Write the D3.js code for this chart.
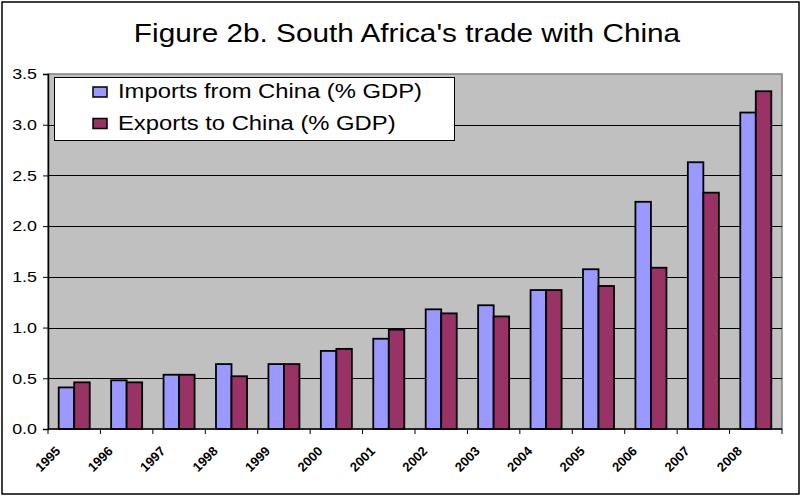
<!DOCTYPE html>
<html>
<head>
<meta charset="utf-8">
<script src="https://cdn.jsdelivr.net/npm/d3@7"></script>
<style>
  body { margin: 0; background: #fff; }
  svg { display: block; font-family: Arial, "Liberation Sans", sans-serif; }
</style>
</head>
<body>
<svg id="chart" width="802" height="497"></svg>
<script>
// data
var years = ["1995", "1996", "1997", "1998", "1999", "2000", "2001",
             "2002", "2003", "2004", "2005", "2006", "2007", "2008"];
var imports = [0.41, 0.48, 0.535, 0.64, 0.64, 0.77, 0.89, 1.18, 1.22, 1.37, 1.575, 2.24, 2.63, 3.12];
var exports = [0.46, 0.46, 0.535, 0.52, 0.64, 0.79, 0.98, 1.14, 1.11, 1.37, 1.41, 1.59, 2.33, 3.33];
var yTicks = [0, 0.5, 1, 1.5, 2, 2.5, 3, 3.5];
var seriesNames = ["Imports from China (% GDP)", "Exports to China (% GDP)"];
var seriesColors = ["#9999FF", "#993366"];

// the reference text is a bit wider than Arial, stretch it horizontally
var stretch = 1.19;

var svg = d3.select("#chart");

// outer frame
svg.append("rect")
    .attr("x", 2).attr("y", 2)
    .attr("width", 797).attr("height", 492)
    .attr("fill", "#fff")
    .attr("stroke", "#000")
    .attr("stroke-width", 1.5);

var plot = { left: 48, top: 74, right: 782, bottom: 429 };

var x = d3.scaleBand()
    .domain(years)
    .range([plot.left, plot.right]);

var xInner = d3.scaleBand()
    .domain([0, 1])
    .range([0, x.bandwidth()])
    .paddingInner(0)
    .paddingOuter(0.69);

var y = d3.scaleLinear()
    .domain([0, 3.5])
    .range([plot.bottom, plot.top]);

// title
svg.append("text")
    .attr("transform", "translate(407,42) scale(" + stretch + ",1)")
    .attr("text-anchor", "middle")
    .attr("font-size", 25)
    .attr("fill", "#000")
    .text("Figure 2b. South Africa's trade with China");

// plot area background
svg.append("rect")
    .attr("x", plot.left).attr("y", plot.top)
    .attr("width", plot.right - plot.left)
    .attr("height", plot.bottom - plot.top)
    .attr("fill", "#C0C0C0")
    .attr("stroke", "#808080")
    .attr("stroke-width", 1.5);

// gridlines
svg.append("g")
    .selectAll("line")
    .data(yTicks.filter(function(d) { return d > 0 && d < 3.5; }))
    .enter().append("line")
    .attr("x1", plot.left).attr("x2", plot.right)
    .attr("y1", function(d) { return Math.round(y(d)) + 0.5; })
    .attr("y2", function(d) { return Math.round(y(d)) + 0.5; })
    .attr("stroke", "#000")
    .attr("stroke-width", 1);

// bars
var groups = svg.append("g")
    .selectAll("g")
    .data(years)
    .enter().append("g")
    .attr("transform", function(d) { return "translate(" + x(d) + ",0)"; });

groups.selectAll("rect")
    .data(function(d, i) { return [imports[i], exports[i]]; })
    .enter().append("rect")
    .attr("x", function(d, j) { return xInner(j); })
    .attr("width", xInner.bandwidth())
    .attr("y", function(d) { return y(d); })
    .attr("height", function(d) { return y(0) - y(d); })
    .attr("fill", function(d, j) { return seriesColors[j]; })
    .attr("stroke", "#000")
    .attr("stroke-width", 1.8);

// y axis
var yAxis = d3.axisLeft(y)
    .tickValues(yTicks)
    .tickFormat(d3.format(".1f"))
    .tickSize(5)
    .tickPadding(6);

var yG = svg.append("g")
    .attr("transform", "translate(" + plot.left + ",0)")
    .call(yAxis);
yG.select(".domain").attr("stroke", "#000").attr("stroke-width", 1.5);
yG.selectAll(".tick line").attr("stroke", "#000");
yG.selectAll("text")
    .attr("x", -11 / stretch)
    .attr("transform", "scale(" + stretch + ",1)")
    .attr("font-size", 15)
    .attr("font-family", "Arial, 'Liberation Sans', sans-serif")
    .attr("fill", "#000");

// x axis: ticks at category boundaries
var xG = svg.append("g");
xG.append("line")
    .attr("x1", plot.left).attr("x2", plot.right)
    .attr("y1", plot.bottom).attr("y2", plot.bottom)
    .attr("stroke", "#000").attr("stroke-width", 1.5);
xG.selectAll("line.tick")
    .data(years.concat(["end"]))
    .enter().append("line")
    .attr("class", "tick")
    .attr("x1", function(d, i) { return plot.left + i * x.step(); })
    .attr("x2", function(d, i) { return plot.left + i * x.step(); })
    .attr("y1", plot.bottom).attr("y2", plot.bottom + 5)
    .attr("stroke", "#000");

xG.selectAll("text")
    .data(years)
    .enter().append("text")
    .attr("transform", function(d) {
        return "translate(" + (x(d) + x.bandwidth() / 2 - 13) + "," + 452 + ") rotate(-45)";
    })
    .attr("text-anchor", "end")
    .attr("font-size", 13)
    .attr("font-weight", "bold")
    .attr("fill", "#000")
    .text(function(d) { return d; });

// legend
var legend = svg.append("g");
legend.append("rect")
    .attr("x", 54.5).attr("y", 77.5)
    .attr("width", 400).attr("height", 63)
    .attr("fill", "#fff")
    .attr("stroke", "#000")
    .attr("stroke-width", 1);

var items = legend.selectAll("g")
    .data(seriesNames)
    .enter().append("g")
    .attr("transform", function(d, i) { return "translate(0," + (i * 31.5) + ")"; });

items.append("rect")
    .attr("x", 93).attr("y", 87)
    .attr("width", 14).attr("height", 10)
    .attr("fill", function(d, i) { return seriesColors[i]; })
    .attr("stroke", "#000")
    .attr("stroke-width", 1.5);

items.append("text")
    .attr("transform", "translate(118,98) scale(" + stretch + ",1)")
    .attr("font-size", 20)
    .attr("fill", "#000")
    .text(function(d) { return d; });
</script>
</body>
</html>
